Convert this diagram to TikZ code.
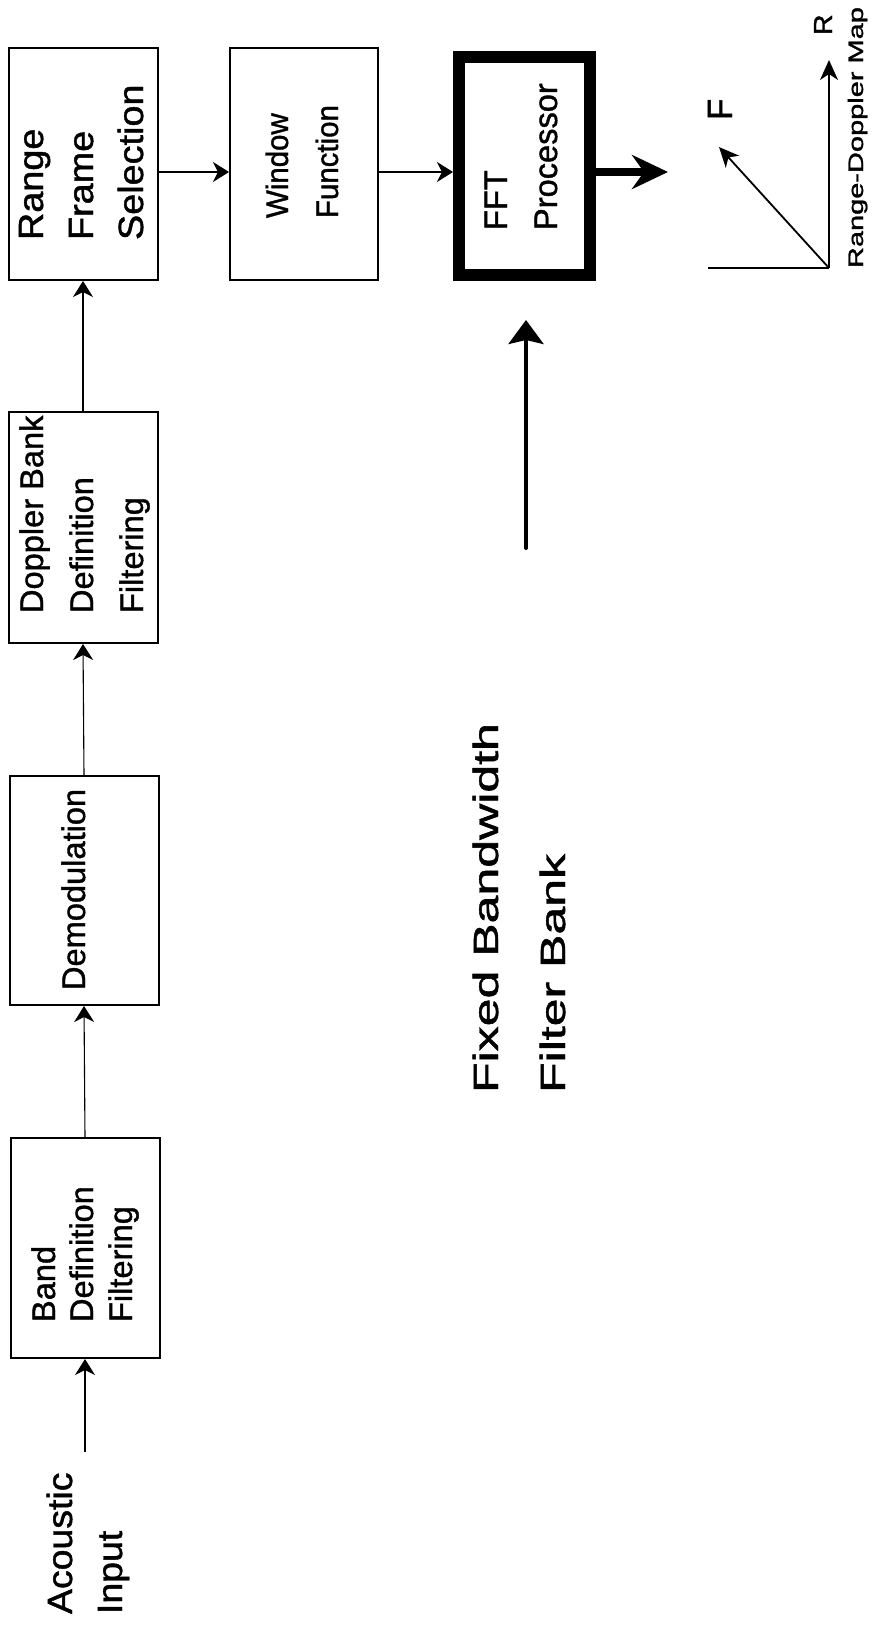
\documentclass[tikz,border=0pt]{standalone}
\usepackage{fontspec}
\setmainfont{Liberation Sans}[FakeBold=1.2]
\usetikzlibrary{arrows.meta}
\newcommand\mytx[3]{{\fontsize{#1}{#1}\selectfont\scalebox{#2}[1]{#3}}}
\begin{document}
\begin{tikzpicture}[x=1pt,y=-1pt,
  box/.style={draw, line width=2pt, inner sep=0pt, minimum width=149pt},
  lbl/.style={rotate=90, anchor=base west, inner sep=0pt, outer sep=0pt},
  conn/.style={line width=1.1pt, -{Stealth[length=16pt,width=20pt,inset=5pt]}},
  axis/.style={line width=1.8pt, -{Stealth[length=20pt,width=18pt,inset=6pt]}}]
\fill[white] (0,0) rectangle (877,1640);
\useasboundingbox (0,0) rectangle (877,1640);

% boxes
\node[box, minimum height=220pt] (band) at (85,1248) {};
\node[box, minimum height=229pt] (demod) at (84,890.5) {};
\node[box, minimum height=231pt] (dop) at (83,527.5) {};
\node[box, minimum height=232pt] (rfs) at (83,164) {};
\node[box, minimum width=148pt, minimum height=232pt] (wf) at (304,164) {};
\node[draw, line width=12pt, inner sep=0pt, minimum width=131pt, minimum height=218pt] (fft) at (524.5,166) {};

% box texts
\node[lbl] (bandA) at (55,1322) {\mytx{32.6}{1}{Band}};
\node[lbl] (bandB) at (93,1322) {\mytx{32.6}{1}{Definition}};
\node[lbl] (bandC) at (132,1322) {\mytx{32.6}{1}{Filtering}};
\node[lbl] (demodA) at (85,990) {\mytx{32.6}{1}{Demodulation}};
\node[lbl] (dopA) at (43,613) {\mytx{32.6}{1}{Doppler Bank}};
\node[lbl] (dopB) at (93,613) {\mytx{32.6}{1}{Definition}};
\node[lbl] (dopC) at (143,613) {\mytx{32.6}{1}{Filtering}};
\node[lbl] (rfsA) at (43,240) {\mytx{35}{1.08}{Range}};
\node[lbl] (rfsB) at (93,240) {\mytx{35}{1.08}{Frame}};
\node[lbl] (rfsC) at (143,240) {\mytx{35}{1.08}{Selection}};
\node[lbl] (wfA) at (288,218) {\mytx{31}{0.95}{Window}};
\node[lbl] (wfB) at (338,218) {\mytx{31}{0.95}{Function}};
\node[lbl] (fftA) at (507,230) {\mytx{32.6}{1}{FFT}};
\node[lbl] (fftB) at (557,230) {\mytx{32.6}{1}{Processor}};

% free labels
\node[lbl] (acA) at (72,1614) {\mytx{35}{1.07}{Acoustic}};
\node[lbl] (acB) at (122,1614) {\mytx{35}{1.07}{Input}};
\node[lbl] (fbA) at (498,1093) {\mytx{35}{1.43}{Fixed Bandwidth}};
\node[lbl] (fbB) at (565,1093) {\mytx{35}{1.43}{Filter Bank}};
\node[lbl] (fLbl) at (732,120) {\mytx{35}{1}{F}};
\node[lbl] (rLbl) at (832,35) {\mytx{26}{1.1}{R}};
\node[lbl] (rdm) at (863,268) {\mytx{21}{1.38}{Range-Doppler Map}};

% connectors
\coordinate (acin) at (85,1452);
\coordinate (ya) at (0,172);
\draw[conn] (acin) -- (band.south);
\draw[conn] (band.north) -- (demod.south);
\draw[conn] (demod.north) -- (dop.south);
\draw[conn] (dop.north) -- (rfs.south);
\draw[conn] (rfs.east |- ya) -- (wf.west |- ya);
\draw[conn] (wf.east |- ya) -- (fft.west |- ya);
\coordinate (outtip) at (668,172);
\draw[line width=8pt, -{Stealth[length=36pt,width=34pt,inset=12pt]}] (fft.east |- ya) -- (outtip);

% fixed bandwidth arrow
\coordinate (fbstart) at (526,548);
\coordinate (fbtip) at (526,320);
\draw[line width=4pt, line cap=round, -{Stealth[length=24pt,width=35pt,inset=4pt]}] (fbstart) -- (fbtip);

% range-doppler axes
\coordinate (org) at (829,268);
\coordinate (hend) at (708,268);
\coordinate (rtip) at (829,60);
\coordinate (ftip) at (719,147);
\draw[line width=1.8pt] (hend) -- (org);
\draw[axis] (org) -- (rtip);
\draw[axis] (org) -- (ftip);
\end{tikzpicture}
\end{document}
